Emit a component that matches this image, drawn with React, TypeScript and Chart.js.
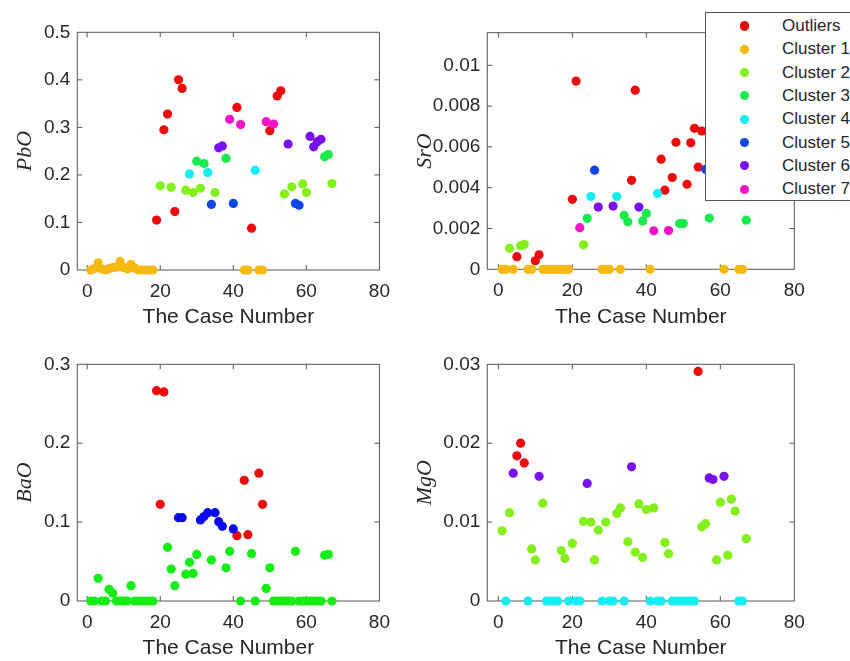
import React, { useEffect, useRef } from 'react';
import { Chart, registerables } from 'chart.js';

Chart.register(...registerables);

// ---------- data ----------
const CASES = [
  1, 2, 3, 4, 5, 6, 7, 8, 9, 10, 11, 12, 13, 14, 15, 16, 17, 18, 19, 20,
  21, 22, 23, 24, 25, 26, 27, 28, 29, 30, 31, 32, 33, 34, 35, 36, 37, 38, 39, 40,
  41, 42, 43, 44, 45, 46, 47, 48, 49, 50, 51, 52, 53, 54, 55, 56, 57, 58, 59, 60,
  61, 62, 63, 64, 65, 66, 67,
];

const LEGEND_NAMES = ['Outliers', 'Cluster 1', 'Cluster 2', 'Cluster 3', 'Cluster 4', 'Cluster 5', 'Cluster 6', 'Cluster 7'];

const HSV8 = ['#ee0a0a', '#f6b90f', '#84f01a', '#1aeb4d', '#14eef3', '#0f45eb', '#7a0ff0', '#f314c8'];
const HSV3 = ['#ee0a0a', '#14ee14', '#0a0aee'];
const HSV4 = ['#ee0a0a', '#84f01a', '#14eef3', '#7a0ff0'];

const X_TICKS = [0, 20, 40, 60, 80];
const X_LABELS = ['0', '20', '40', '60', '80'];

const PBO_TICKS = [0, 0.1, 0.2, 0.3, 0.4, 0.5];
const PBO_LABELS = ['0', '0.1', '0.2', '0.3', '0.4', '0.5'];
const SRO_TICKS = [0, 0.002, 0.004, 0.006, 0.008, 0.01];
const SRO_LABELS = ['0', '0.002', '0.004', '0.006', '0.008', '0.01'];
const BAO_TICKS = [0, 0.1, 0.2, 0.3];
const BAO_LABELS = ['0', '0.1', '0.2', '0.3'];
const MGO_TICKS = [0, 0.01, 0.02, 0.03];
const MGO_LABELS = ['0', '0.01', '0.02', '0.03'];

const PBO = [
  0, 0.003, 0.015, 0.002, 0, 0.003, 0.005, 0.006, 0.018, 0.005,
  0.002, 0.012, 0.004, 0, 0, 0, 0, 0, 0.105, 0.177,
  0.295, 0.328, 0.174, 0.123, 0.4, 0.382, 0.168, 0.202, 0.163, 0.229,
  0.172, 0.224, 0.205, 0.138, 0.163, 0.257, 0.261, 0.235, 0.317, 0.14,
  0.342, 0.306, 0, 0, 0.088, 0.21, 0, 0, 0.312, 0.293,
  0.307, 0.366, 0.377, 0.16, 0.265, 0.175, 0.14, 0.136, 0.181, 0.163,
  0.281, 0.259, 0.27, 0.275, 0.238, 0.243, 0.182,
];
const PBO_GROUP = [
  1, 1, 1, 1, 1, 1, 1, 1, 1, 1,
  1, 1, 1, 1, 1, 1, 1, 1, 0, 2,
  0, 0, 2, 0, 0, 0, 2, 4, 2, 3,
  2, 3, 4, 5, 2, 6, 6, 3, 7, 5,
  0, 7, 1, 1, 0, 4, 1, 1, 7, 0,
  7, 0, 0, 2, 6, 2, 5, 5, 2, 2,
  6, 6, 6, 6, 3, 3, 2,
];

const SRO = [
  0, 0, 0.00103, 0, 0.00062, 0.00116, 0.00122, 0, 0, 0.00042,
  0.00071, 0, 0, 0, 0, 0, 0, 0, 0, 0.00343,
  0.00923, 0.00204, 0.0012, 0.0025, 0.00357, 0.00486, 0.00305, 0, 0, 0,
  0.0031, 0.00357, 0, 0.00264, 0.00233, 0.00436, 0.00878, 0.00305, 0.00237, 0.00274,
  0, 0.00189, 0.00372, 0.0054, 0.00388, 0.0019, 0.0045, 0.00623, 0.00224, 0.00224,
  0.00417, 0.0062, 0.00691, 0.00501, 0.00678, 0.0049, 0.00251, 0.0058, 0.0044, 0.0062,
  0, 0.0047, 0.0055, 0.0042, 0, 0, 0.00241,
];
const SRO_GROUP = [
  1, 1, 2, 1, 0, 2, 2, 1, 1, 0,
  0, 1, 1, 1, 1, 1, 1, 1, 1, 0,
  0, 7, 2, 3, 4, 5, 6, 1, 1, 1,
  6, 4, 1, 3, 3, 0, 0, 6, 3, 3,
  1, 7, 4, 0, 0, 7, 0, 0, 3, 3,
  0, 0, 0, 0, 0, 5, 3, 0, 0, 0,
  1, 0, 0, 0, 1, 1, 3,
];

const BAO = [
  0, 0, 0.0288, 0, 0, 0.0148, 0.0098, 0, 0, 0,
  0, 0.0194, 0, 0, 0, 0, 0, 0, 0.2666, 0.1225,
  0.265, 0.068, 0.0405, 0.0194, 0.1056, 0.1056, 0.034, 0.049, 0.035, 0.059,
  0.1027, 0.107, 0.112, 0.052, 0.112, 0.1005, 0.0946, 0.042, 0.063, 0.0913,
  0.0828, 0, 0.153, 0.084, 0.06, 0, 0.162, 0.1225, 0.016, 0.042,
  0, 0, 0, 0, 0, 0, 0.063, 0, 0, 0,
  0, 0, 0, 0, 0.058, 0.059, 0,
];
const BAO_GROUP = [
  1, 1, 1, 1, 1, 1, 1, 1, 1, 1,
  1, 1, 1, 1, 1, 1, 1, 1, 0, 0,
  0, 1, 1, 1, 2, 2, 1, 1, 1, 1,
  2, 2, 2, 1, 2, 2, 2, 1, 1, 2,
  0, 1, 0, 0, 1, 1, 0, 0, 1, 1,
  1, 1, 1, 1, 1, 1, 1, 1, 1, 1,
  1, 1, 1, 1, 1, 1, 1,
];

const MGO = [
  0.0089, 0, 0.0112, 0.0162, 0.0184, 0.02, 0.0175, 0, 0.0066, 0.0052,
  0.0158, 0.0124, 0, 0, 0, 0, 0.0064, 0.0054, 0, 0.0073,
  0, 0, 0.0101, 0.0149, 0.01, 0.0052, 0.009, 0, 0.01, 0,
  0, 0.0111, 0.0118, 0, 0.0075, 0.017, 0.0062, 0.0123, 0.0055, 0.0116,
  0, 0.0118, 0, 0, 0.0074, 0.006, 0, 0, 0, 0,
  0, 0, 0, 0.0291, 0.0094, 0.0098, 0.0156, 0.0154, 0.0052, 0.0125,
  0.0158, 0.0058, 0.0129, 0.0114, 0, 0, 0.0079,
];
const MGO_GROUP = [
  1, 2, 1, 3, 0, 0, 0, 2, 1, 1,
  3, 1, 2, 2, 2, 2, 1, 1, 2, 1,
  2, 2, 1, 3, 1, 1, 1, 2, 1, 2,
  2, 1, 1, 2, 1, 3, 1, 1, 1, 1,
  2, 1, 2, 2, 1, 1, 2, 2, 2, 2,
  2, 2, 2, 0, 1, 1, 3, 3, 1, 1,
  3, 1, 1, 1, 2, 2, 1,
];

// ---------- styling ----------
const SANS = '"Liberation Sans", Arial, Helvetica, sans-serif';
const SERIF = '"Liberation Serif", "Times New Roman", serif';
const TEXT = '#262626';
const BOX = '#555555';

const boxPlugin = {
  id: 'matlabBox',
  beforeDatasetsDraw(chart: any) {
    const { ctx, chartArea: a, scales } = chart;
    ctx.save();
    ctx.strokeStyle = BOX;
    ctx.lineWidth = 1;
    ctx.strokeRect(a.left, a.top, a.right - a.left, a.bottom - a.top);
    const tl = 5;
    ctx.beginPath();
    scales.x.ticks.forEach((t: any) => {
      const p = scales.x.getPixelForValue(t.value);
      if (p <= a.left + 1 || p >= a.right - 1) return;
      ctx.moveTo(p, a.bottom);
      ctx.lineTo(p, a.bottom - tl);
      ctx.moveTo(p, a.top);
      ctx.lineTo(p, a.top + tl);
    });
    scales.y.ticks.forEach((t: any) => {
      const p = scales.y.getPixelForValue(t.value);
      if (p <= a.top + 1 || p >= a.bottom - 1) return;
      ctx.moveTo(a.left, p);
      ctx.lineTo(a.left + tl, p);
      ctx.moveTo(a.right, p);
      ctx.lineTo(a.right - tl, p);
    });
    ctx.stroke();
    ctx.restore();
  },
};

type PanelProps = {
  left: number; top: number; width: number; height: number;
  values: number[]; groups: number[]; palette: string[];
  yTicks: number[]; yLabels: string[]; yMax: number; xMin: number;
  title: string; padTop: number; padRight: number; yAxisW: number; xAxisH: number;
};

function Panel(p: PanelProps) {
  const ref = useRef<HTMLCanvasElement | null>(null);
  useEffect(() => {
    if (!ref.current) return;
    const datasets = p.palette.map((color, g) => ({
      label: LEGEND_NAMES[g],
      data: CASES.map((c, i) => (p.groups[i] === g ? { x: c, y: p.values[i] } : null)).filter(Boolean) as any[],
      backgroundColor: color,
      borderColor: color,
      borderWidth: 0,
      pointRadius: 4.6,
      pointHoverRadius: 4.6,
      showLine: false,
      clip: false as any,
      order: -g,
    }));
    const chart = new Chart(ref.current, {
      type: 'scatter',
      data: { datasets },
      plugins: [boxPlugin],
      options: {
        animation: false,
        responsive: false,
        maintainAspectRatio: false,
        events: [],
        layout: { padding: { left: 0, top: p.padTop, right: p.padRight, bottom: 0 } },
        plugins: { legend: { display: false }, tooltip: { enabled: false } },
        scales: {
          x: {
            type: 'linear',
            min: p.xMin,
            max: 80,
            afterBuildTicks: (s: any) => { s.ticks = X_TICKS.map((v) => ({ value: v })); },
            afterFit: (s: any) => { s.height = p.xAxisH; },
            grid: { display: false, drawTicks: false, tickLength: 0 },
            border: { display: false },
            ticks: {
              padding: 10,
              maxRotation: 0,
              autoSkip: false,
              color: TEXT,
              font: { family: SANS, size: 19 },
              callback: (_v: any, i: number) => X_LABELS[i],
            },
            title: {
              display: true,
              text: 'The Case Number',
              color: TEXT,
              font: { family: SANS, size: 21 },
              padding: { top: 0, bottom: 0 },
            },
          },
          y: {
            type: 'linear',
            min: 0,
            max: p.yMax,
            afterBuildTicks: (s: any) => { s.ticks = p.yTicks.map((v) => ({ value: v })); },
            afterFit: (s: any) => { s.width = p.yAxisW; },
            grid: { display: false, drawTicks: false, tickLength: 0 },
            border: { display: false },
            ticks: {
              padding: 7,
              autoSkip: false,
              color: TEXT,
              font: { family: SANS, size: 19 },
              callback: (_v: any, i: number) => p.yLabels[i],
            },
            title: {
              display: true,
              text: p.title,
              color: TEXT,
              font: { family: SERIF, size: 22, style: 'italic' },
              padding: { top: 12, bottom: 0 },
            },
          },
        },
      } as any,
    });
    return () => chart.destroy();
  }, []);
  return (
    <canvas
      ref={ref}
      width={p.width}
      height={p.height}
      style={{ position: 'absolute', left: p.left, top: p.top, width: p.width, height: p.height, display: 'block' }}
    />
  );
}

function Legend() {
  const rowY0 = 13;
  const rowStep = 23.3;
  return (
    <div
      style={{
        position: 'absolute', left: 705, top: 12, width: 200, height: 189,
        border: `1px solid ${BOX}`, background: '#ffffff', boxSizing: 'border-box',
      }}
    >
      {LEGEND_NAMES.map((name, i) => (
        <React.Fragment key={name}>
          <div
            style={{
              position: 'absolute', left: 34, top: rowY0 + i * rowStep - 4.6,
              width: 9.2, height: 9.2, borderRadius: '50%', background: HSV8[i],
            }}
          />
          <div
            style={{
              position: 'absolute', left: 76, top: rowY0 + i * rowStep - 10,
              height: 20, lineHeight: '20px', fontFamily: SANS, fontSize: 17, color: TEXT, whiteSpace: 'nowrap',
            }}
          >
            {name}
          </div>
        </React.Fragment>
      ))}
    </div>
  );
}

export default function App() {
  return (
    <div style={{ position: 'absolute', left: 0, top: 0, width: 850, height: 661, overflow: 'hidden', background: '#ffffff' }}>
      <Panel left={0} top={0} width={400} height={330} values={PBO} groups={PBO_GROUP} palette={HSV8}
        yTicks={PBO_TICKS} yLabels={PBO_LABELS} yMax={0.5} xMin={-2.7} title="PbO"
        padTop={32.3} padRight={17.3} yAxisW={77.3} xAxisH={60} />
      <Panel left={400} top={0} width={450} height={330} values={SRO} groups={SRO_GROUP} palette={HSV8}
        yTicks={SRO_TICKS} yLabels={SRO_LABELS} yMax={0.0116} xMin={-3} title="SrO"
        padTop={32.7} padRight={55.7} yAxisW={87.3} xAxisH={60.7} />
      <Panel left={0} top={330} width={400} height={331} values={BAO} groups={BAO_GROUP} palette={HSV3}
        yTicks={BAO_TICKS} yLabels={BAO_LABELS} yMax={0.3} xMin={-2.7} title="BaO"
        padTop={34.3} padRight={17.3} yAxisW={77.3} xAxisH={60} />
      <Panel left={400} top={330} width={450} height={331} values={MGO} groups={MGO_GROUP} palette={HSV4}
        yTicks={MGO_TICKS} yLabels={MGO_LABELS} yMax={0.03} xMin={-3} title="MgO"
        padTop={34.3} padRight={55.7} yAxisW={87.3} xAxisH={60} />
      <Legend />
    </div>
  );
}
